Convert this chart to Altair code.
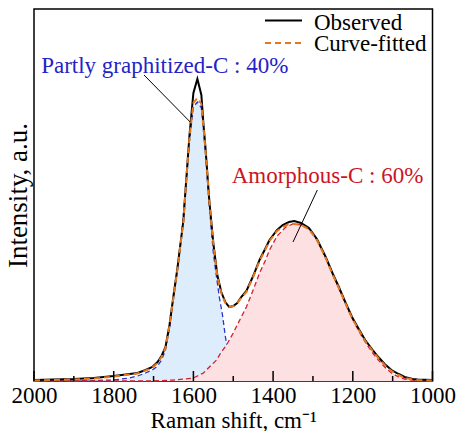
import altair as alt
import pandas as pd

# ---- data ----
obs_wn = [2000, 1950, 1900, 1850, 1800, 1760, 1740, 1720, 1703, 1690, 1680, 1670, 1660, 1650,
          1640, 1630, 1625, 1620, 1610, 1600, 1590, 1580, 1575, 1570, 1560, 1550, 1540, 1530,
          1520, 1510, 1500, 1490, 1480, 1467, 1450, 1434, 1420, 1409, 1390, 1376, 1360, 1347,
          1330, 1310, 1290, 1268, 1250, 1235, 1220, 1202, 1185, 1169, 1150, 1136, 1120, 1103,
          1085, 1070, 1050, 1037, 1000]
obs_int = [1, 1.5, 2, 3, 5, 7, 8, 11, 14, 19, 25, 34, 56, 85,
           113, 145, 161, 190, 245, 288, 302, 286, 258, 235, 180, 138, 106, 89,
           79, 74, 75, 78, 84, 90, 105, 121, 132, 141, 151, 156, 159, 160,
           158, 153, 142, 124, 107, 94, 80, 64, 52, 41, 31, 24, 17, 11,
           7, 4, 2, 1.5, 1]

fit_wn = obs_wn
fit_int = [0.5, 1, 1.5, 2.5, 4.5, 6.5, 7.5, 10.5, 13.5, 18, 24, 33, 55, 84,
           112, 144, 160, 189, 243, 278, 283, 277, 255, 233, 179, 137, 105, 88,
           78, 74, 75, 78, 83, 89, 104, 120, 131, 140, 150, 154, 157, 157,
           156, 152, 141, 123, 106, 93, 79, 63, 51, 40, 30, 23, 16, 10,
           6, 3, 1.5, 1, 0.5]

g_wn = [2000, 1900, 1800, 1760, 1740, 1720, 1703, 1690, 1680, 1670, 1660, 1650, 1640, 1630,
        1620, 1610, 1600, 1590, 1580, 1575, 1570, 1560, 1550, 1542, 1535, 1527, 1520, 1517,
        1510, 1500, 1490, 1480, 1460, 1440, 1400, 1300, 1000]
g_int = [0, 0.3, 1, 3, 5, 8, 11, 15, 21, 31, 53, 83, 112, 145,
         189, 240, 274, 279, 273, 252, 230, 175, 128, 104, 84, 66, 45, 38,
         28, 18, 12, 8, 4, 2, 0.5, 0, 0]

d_wn = [2000, 1800, 1700, 1650, 1620, 1600, 1590, 1575, 1560, 1542, 1530, 1517, 1500, 1485,
        1467, 1450, 1434, 1420, 1409, 1390, 1368, 1350, 1340, 1330, 1310, 1290, 1268, 1250,
        1235, 1220, 1202, 1185, 1169, 1150, 1136, 1120, 1103, 1085, 1070, 1050, 1000]
d_int = [0, 0, 0, 1, 2, 3, 5, 8, 14, 21, 29, 36, 48, 60,
         74, 91, 108, 120, 131, 145, 154, 157, 157, 156, 152, 141, 124, 107,
         93, 79, 63, 50, 39, 28, 21, 14, 8, 4, 2, 0.8, 0]

major_ticks = [2000, 1800, 1600, 1400, 1200, 1000]
minor_ticks = [1900, 1700, 1500, 1300, 1100]

labels = ["Partly graphitized-C : 40%", "Amorphous-C : 60%"]
label_wn = [1982, 1504]
label_int = [308, 198]
label_colors = ["#2323c8", "#cc1424"]
leader_wn = [1724, 1289]
leader_int = [306, 191]
leader_wn2 = [1608, 1350]
leader_int2 = [259, 139]

series_names = ["Observed", "Curve-fitted"]
series_colors = ["black", "#e4781c"]

# ---- tables ----
obs_df = pd.DataFrame({"wn": obs_wn, "h": obs_int})
fit_df = pd.DataFrame({"wn": fit_wn, "h": fit_int})
g_df = pd.DataFrame({"wn": g_wn, "h": g_int})
d_df = pd.DataFrame({"wn": d_wn, "h": d_int})
major_df = pd.DataFrame({"wn": major_ticks})
minor_df = pd.DataFrame({"wn": minor_ticks})
lab_df = pd.DataFrame({"wn": label_wn, "h": label_int, "text": labels, "c": label_colors})
lead_df = pd.DataFrame({"wn": leader_wn, "h": leader_int, "wn2": leader_wn2, "h2": leader_int2})

FONT = "Liberation Serif"
FS = 23
H = 372
W = 398.5

xscale = alt.Scale(domain=[1000, 2000], reverse=True, nice=False, zero=False)
yscale = alt.Scale(domain=[0, H], nice=False, zero=True)

xaxis = alt.Axis(values=major_ticks, format="d", labelFont=FONT, labelFontSize=FS,
                 labelColor="black", ticks=False, domain=False, grid=False,
                 labelFlush=False, labelOverlap=False, labelPadding=3,
                 title="Raman shift, cm\u207b\u00b9", titleFont=FONT, titleFontSize=FS,
                 titleFontWeight="normal", titleColor="black", titlePadding=2)
yaxis = alt.Axis(labels=False, ticks=False, domain=False, grid=False,
                 title="Intensity, a.u.", titleFont=FONT, titleFontSize=27,
                 titleFontWeight="normal", titleColor="black", titlePadding=2)

X = alt.X("wn:Q", scale=xscale, axis=xaxis)
Y = alt.Y("h:Q", scale=yscale, axis=yaxis)
Xn = alt.X("wn:Q", scale=xscale)
Yn = alt.Y("h:Q", scale=yscale)

g_area = alt.Chart(g_df).mark_area(color="#deedfb", opacity=1).encode(x=X, y=Y)
g_line = alt.Chart(g_df).mark_line(color="#2a33cc", strokeWidth=1.3, strokeDash=[5, 3]).encode(x=Xn, y=Yn)
d_area = alt.Chart(d_df).mark_area(color="#fde0e1", opacity=1).encode(x=Xn, y=Yn)
d_line = alt.Chart(d_df).mark_line(color="#d21e30", strokeWidth=1.3, strokeDash=[5, 3]).encode(x=Xn, y=Yn)

obs_line = alt.Chart(obs_df).mark_line(color=series_colors[0], strokeWidth=2).encode(x=Xn, y=Yn)
fit_line = alt.Chart(fit_df).mark_line(color=series_colors[1], strokeWidth=2,
                                       strokeDash=[6, 4]).encode(x=Xn, y=Yn)

major_marks = alt.Chart(major_df).mark_rule(color="black", strokeWidth=1.5).encode(
    x=Xn, y=alt.value(H), y2=alt.value(H - 10))
minor_marks = alt.Chart(minor_df).mark_rule(color="black", strokeWidth=1.5).encode(
    x=Xn, y=alt.value(H), y2=alt.value(H - 5))

leaders = alt.Chart(lead_df).mark_rule(color="black", strokeWidth=1).encode(
    x=Xn, y=Yn, x2="wn2:Q", y2="h2:Q")
texts = alt.Chart(lab_df).mark_text(font=FONT, fontSize=FS, align="left", baseline="alphabetic").encode(
    x=Xn, y=Yn, text="text:N", color=alt.Color("c:N", scale=None))

# ---- legend (drawn in the top-right corner of the plot) ----
leg_sym_obs = alt.Chart(obs_df.head(1)).mark_rule(color=series_colors[0], strokeWidth=2).encode(
    x=alt.value(231), x2=alt.value(268), y=alt.value(11.5))
leg_sym_fit = alt.Chart(obs_df.head(1)).mark_rule(color=series_colors[1], strokeWidth=2,
                                                  strokeDash=[6, 4]).encode(
    x=alt.value(231), x2=alt.value(268), y=alt.value(34))
leg_txt_obs = alt.Chart(obs_df.head(1)).mark_text(font=FONT, fontSize=FS, align="left",
                                                  baseline="alphabetic", color="black").encode(
    x=alt.value(280), y=alt.value(21), text=alt.value(series_names[0]))
leg_txt_fit = alt.Chart(obs_df.head(1)).mark_text(font=FONT, fontSize=FS, align="left",
                                                  baseline="alphabetic", color="black").encode(
    x=alt.value(280), y=alt.value(42), text=alt.value(series_names[1]))

chart = alt.layer(
    g_area, g_line, d_area, d_line, obs_line, fit_line, major_marks, minor_marks, leaders, texts,
    leg_sym_obs, leg_sym_fit, leg_txt_obs, leg_txt_fit
).properties(
    width=W, height=H,
    autosize=alt.AutoSizeParams(type="none"),
    padding={"left": 26, "top": 1, "right": 23.5, "bottom": 50},
).configure_view(stroke="black", strokeWidth=1.5)

chart.save("out.html", embed_options={"renderer": "svg", "actions": False})
